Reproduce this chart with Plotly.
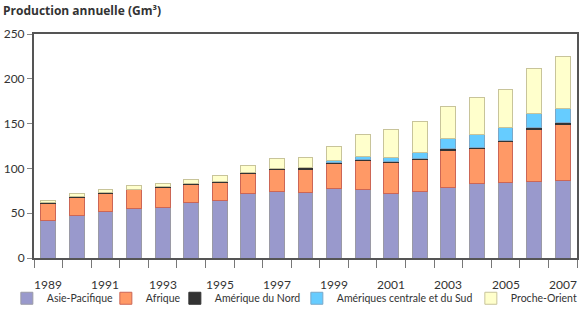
import plotly.graph_objects as go

years = list(range(1989, 2008))
year_labels = [str(y) for y in years if y % 2 == 1]

asie_pacifique = [41.7, 47.6, 52.1, 54.7, 56.5, 62.5, 64.4, 72.2, 74.0, 73.3,
                  77.8, 75.9, 72.2, 74.0, 79.2, 83.3, 84.1, 85.2, 86.3]
afrique = [18.6, 19.7, 20.1, 21.2, 22.0, 19.7, 19.7, 21.6, 25.0, 25.7,
           27.5, 32.7, 34.2, 35.7, 40.6, 38.4, 45.4, 58.0, 62.5]
amerique_nord = [1.5, 1.2, 1.1, 1.1, 1.2, 1.1, 1.8, 1.4, 1.4, 1.8,
                 1.8, 1.5, 1.5, 1.5, 1.9, 1.8, 1.8, 2.3, 1.9]
ameriques_cs = [0, 0, 0, 0, 0, 0, 0, 0, 0, 0,
                1.5, 3.7, 4.8, 6.0, 11.9, 14.1, 14.9, 16.3, 16.3]
proche_orient = [2.6, 3.3, 3.7, 4.1, 3.3, 4.5, 6.7, 7.5, 10.8, 11.9,
                 15.7, 23.5, 30.9, 35.0, 35.3, 41.0, 42.4, 49.5, 58.1]

# name, values, fill, outline, legend entry width
series = [
    ("Asie-Pacifique", asie_pacifique, "#9999cc", "#9a9aa6", 54),
    ("Afrique", afrique, "#ff9966", "#cc6655", 24),
    ("Amérique du Nord", amerique_nord, "#333333", "#333333", 77),
    ("Amériques centrale et du Sud", ameriques_cs, "#66ccff", "#7aa8c8", 129),
    ("Proche-Orient", proche_orient, "#ffffcc", "#c8c49a", 68),
]

fig = go.Figure()
for name, vals, col, edge, lw in series:
    fig.add_trace(go.Bar(x=years, y=vals, name=name, legendwidth=lw,
                         marker=dict(color=col, line=dict(color=edge, width=1))))

font = "Lato, 'Open Sans', sans-serif"

# year labels sit well below the axis, so place them as annotations on the x scale
annots = [dict(text="<b>Production annuelle (Gm³)</b>", xref="paper", yref="paper",
               x=-0.061, y=1.0, yshift=13, xanchor="left", yanchor="bottom",
               showarrow=False,
               font=dict(family="'Open Sans', sans-serif", size=12, color="#333333"))]
for s in year_labels:
    annots.append(dict(text=s, x=int(s), xref="x", y=0, yref="paper", yshift=-17,
                       xanchor="center", yanchor="top", showarrow=False,
                       font=dict(size=12, color="#333333")))

fig.update_layout(
    barmode="stack",
    bargap=0.48,
    width=580, height=318,
    margin=dict(l=34, r=3, t=34, b=60, autoexpand=False),
    paper_bgcolor="white", plot_bgcolor="white",
    font=dict(family=font, size=12, color="#333333"),
    showlegend=True,
    legend=dict(orientation="h", x=-0.05, xanchor="left", y=-0.115, yanchor="top",
                bgcolor="rgba(0,0,0,0)",
                font=dict(size=10.5, color="#333333"), itemwidth=30, traceorder="normal"),
    annotations=annots,
)
# minor ticks mark the category edges
fig.update_xaxes(range=[1988.5, 2007.5], tickvals=[int(s) for s in year_labels],
                 showticklabels=False, ticks="", showgrid=False, showline=True,
                 linecolor="#555555", linewidth=2, mirror=True,
                 minor=dict(tick0=1988.5, dtick=1, ticks="outside", ticklen=8,
                            tickcolor="#777777", showgrid=False))
fig.update_yaxes(range=[0, 250], dtick=50, ticks="outside", ticklen=5, tickcolor="#888888",
                 showgrid=False, showline=True, linecolor="#555555", linewidth=2,
                 mirror=True, tickfont=dict(size=12), zeroline=False)

fig.write_html("out.html", config={"displayModeBar": False},
               post_script="document.body.style.margin='0';")
